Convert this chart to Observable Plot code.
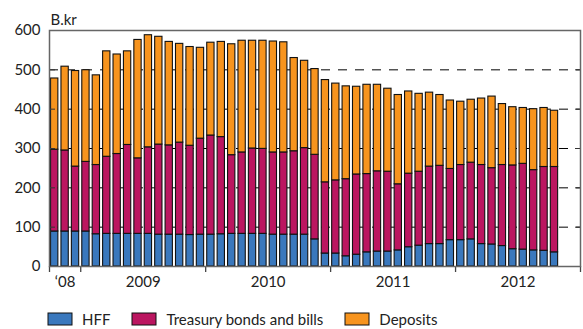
<!DOCTYPE html>
<html>
<head>
<meta charset="utf-8">
<script src="https://cdn.jsdelivr.net/npm/d3@7"></script>
<script src="https://cdn.jsdelivr.net/npm/@observablehq/plot@0.6"></script>
<style>
  html, body { margin: 0; padding: 0; background: #fff; }
  #chart { width: 583px; height: 329px; overflow: hidden; }
  .lg-swatches { font-family: Lato, sans-serif !important; font-size: 15px !important; color: #222 !important;
    margin: 4px 0 0 48px !important; min-height: 30px !important; }
  .lg-swatch { margin-right: 22px !important; }
  .lg-swatch > svg { margin-right: 10px !important; overflow: visible !important; }
  .lg-swatch svg rect { stroke: #111; stroke-width: 1; }
</style>
</head>
<body>
<div id="chart"></div>
<script>
// Months with data (Oct 2008 – Oct 2012)
const months = [
  "2008-10","2008-11","2008-12",
  "2009-01","2009-02","2009-03","2009-04","2009-05","2009-06","2009-07","2009-08","2009-09","2009-10","2009-11","2009-12",
  "2010-01","2010-02","2010-03","2010-04","2010-05","2010-06","2010-07","2010-08","2010-09","2010-10","2010-11","2010-12",
  "2011-01","2011-02","2011-03","2011-04","2011-05","2011-06","2011-07","2011-08","2011-09","2011-10","2011-11","2011-12",
  "2012-01","2012-02","2012-03","2012-04","2012-05","2012-06","2012-07","2012-08","2012-09","2012-10"
];
// Axis spans Oct 2008 to end of Dec 2012
const axisStart = "2008-10";
const axisEnd = "2012-12";

const seriesNames = ["HFF", "Treasury bonds and bills", "Deposits"];
const seriesColors = ["#3a78bd", "#bb1660", "#f7941e"];

// B.kr
const hff = [89,89,89, 89,82,83,83,83,83,83,81,81,81,80,81, 81,82,83,83,83,83,81,81,81,81,69,33,
             33,26,30,36,38,38,41,49,53,57,57,67, 67,69,57,56,52,44,43,41,40,36];
const treasury = [208,206,165, 177,176,196,203,226,192,220,229,227,234,227,244, 252,247,200,207,217,216,209,209,212,220,215,181,
                  186,196,204,199,204,203,168,187,188,197,199,181, 191,195,201,194,206,213,218,204,213,217];
const deposits = [181,213,243, 233,228,268,253,238,301,285,274,263,251,251,231, 236,242,282,284,274,275,282,280,237,222,218,260,
                  246,236,223,227,220,211,227,209,198,188,180,174, 161,160,169,182,155,148,142,155,150,143];

const yTicks = [0, 100, 200, 300, 400, 500, 600];
const gridValues = [100, 200, 300, 400, 500];
const yearLabels = ["\u201808", "2009", "2010", "2011", "2012"];
const unitLabel = "B.kr";

// ---- derived helpers ----
const monthIndex = (m) => {
  const [y, mo] = m.split("-").map(Number);
  const [y0, m0] = axisStart.split("-").map(Number);
  return (y - y0) * 12 + (mo - m0);
};
const nSlots = monthIndex(axisEnd) + 1;
const yearBounds = [0];
for (let i = 0; i < nSlots; i++) {
  const mm = +(() => { const [y0, m0] = axisStart.split("-").map(Number); return ((m0 - 1 + i) % 12) + 1; })();
  if (mm === 1) yearBounds.push(i);
}
yearBounds.push(nSlots);
const yearMids = yearBounds.slice(0, -1).map((b, k) => (b + yearBounds[k + 1]) / 2);

const table = [];
months.forEach((m, k) => {
  const i = monthIndex(m);
  table.push({i, series: seriesNames[0], value: hff[k]});
  table.push({i, series: seriesNames[1], value: treasury[k]});
  table.push({i, series: seriesNames[2], value: deposits[k]});
});

const chart = Plot.plot({
  width: 583,
  height: 300,
  marginTop: 30,
  marginBottom: 34,
  marginLeft: 49,
  marginRight: 3,
  style: {fontFamily: "Lato, sans-serif", fontSize: "15px", color: "#222", background: "#fff"},
  x: {type: "linear", domain: [0, nSlots], axis: null},
  y: {domain: [0, 600], axis: null},
  color: {domain: seriesNames, range: seriesColors},
  marks: [
    Plot.ruleY(gridValues, {stroke: "#000", strokeWidth: 1, strokeDasharray: "9,8"}),
    Plot.rectY(table, {x: "i", interval: 1, y: "value", fill: "series", stroke: "#111", strokeWidth: 1.1,
      insetLeft: 1.55, insetRight: 1.55}),
    Plot.axisY({anchor: "left", ticks: yTicks, tickSize: 0, tickPadding: 9, label: null, fontSize: 15}),
    Plot.axisY({anchor: "left", ticks: gridValues, tickSize: -6, tickFormat: () => "", label: null, stroke: "#333"}),
    Plot.axisY({anchor: "right", ticks: gridValues, tickSize: -6, tickFormat: () => "", label: null, stroke: "#333"}),
    Plot.axisX({ticks: yearBounds, tickSize: 6, tickFormat: () => "", label: null, stroke: "#444", strokeWidth: 1.3}),
    Plot.axisX({ticks: yearMids, tickSize: 0, tickPadding: 10, tickFormat: d => yearLabels[yearMids.indexOf(d)], label: null, fontSize: 15}),
    Plot.frame({stroke: "#666", strokeWidth: 1.5}),
    Plot.text([unitLabel], {frameAnchor: "top-left", dx: 1, dy: -16, textAnchor: "start", fontSize: 15, fill: "#222"})
  ]
});

const legend = chart.legend("color", {swatchWidth: 24, swatchHeight: 12, className: "lg"});
const root = document.getElementById("chart");
root.appendChild(chart);
root.appendChild(legend);
</script>
</body>
</html>
